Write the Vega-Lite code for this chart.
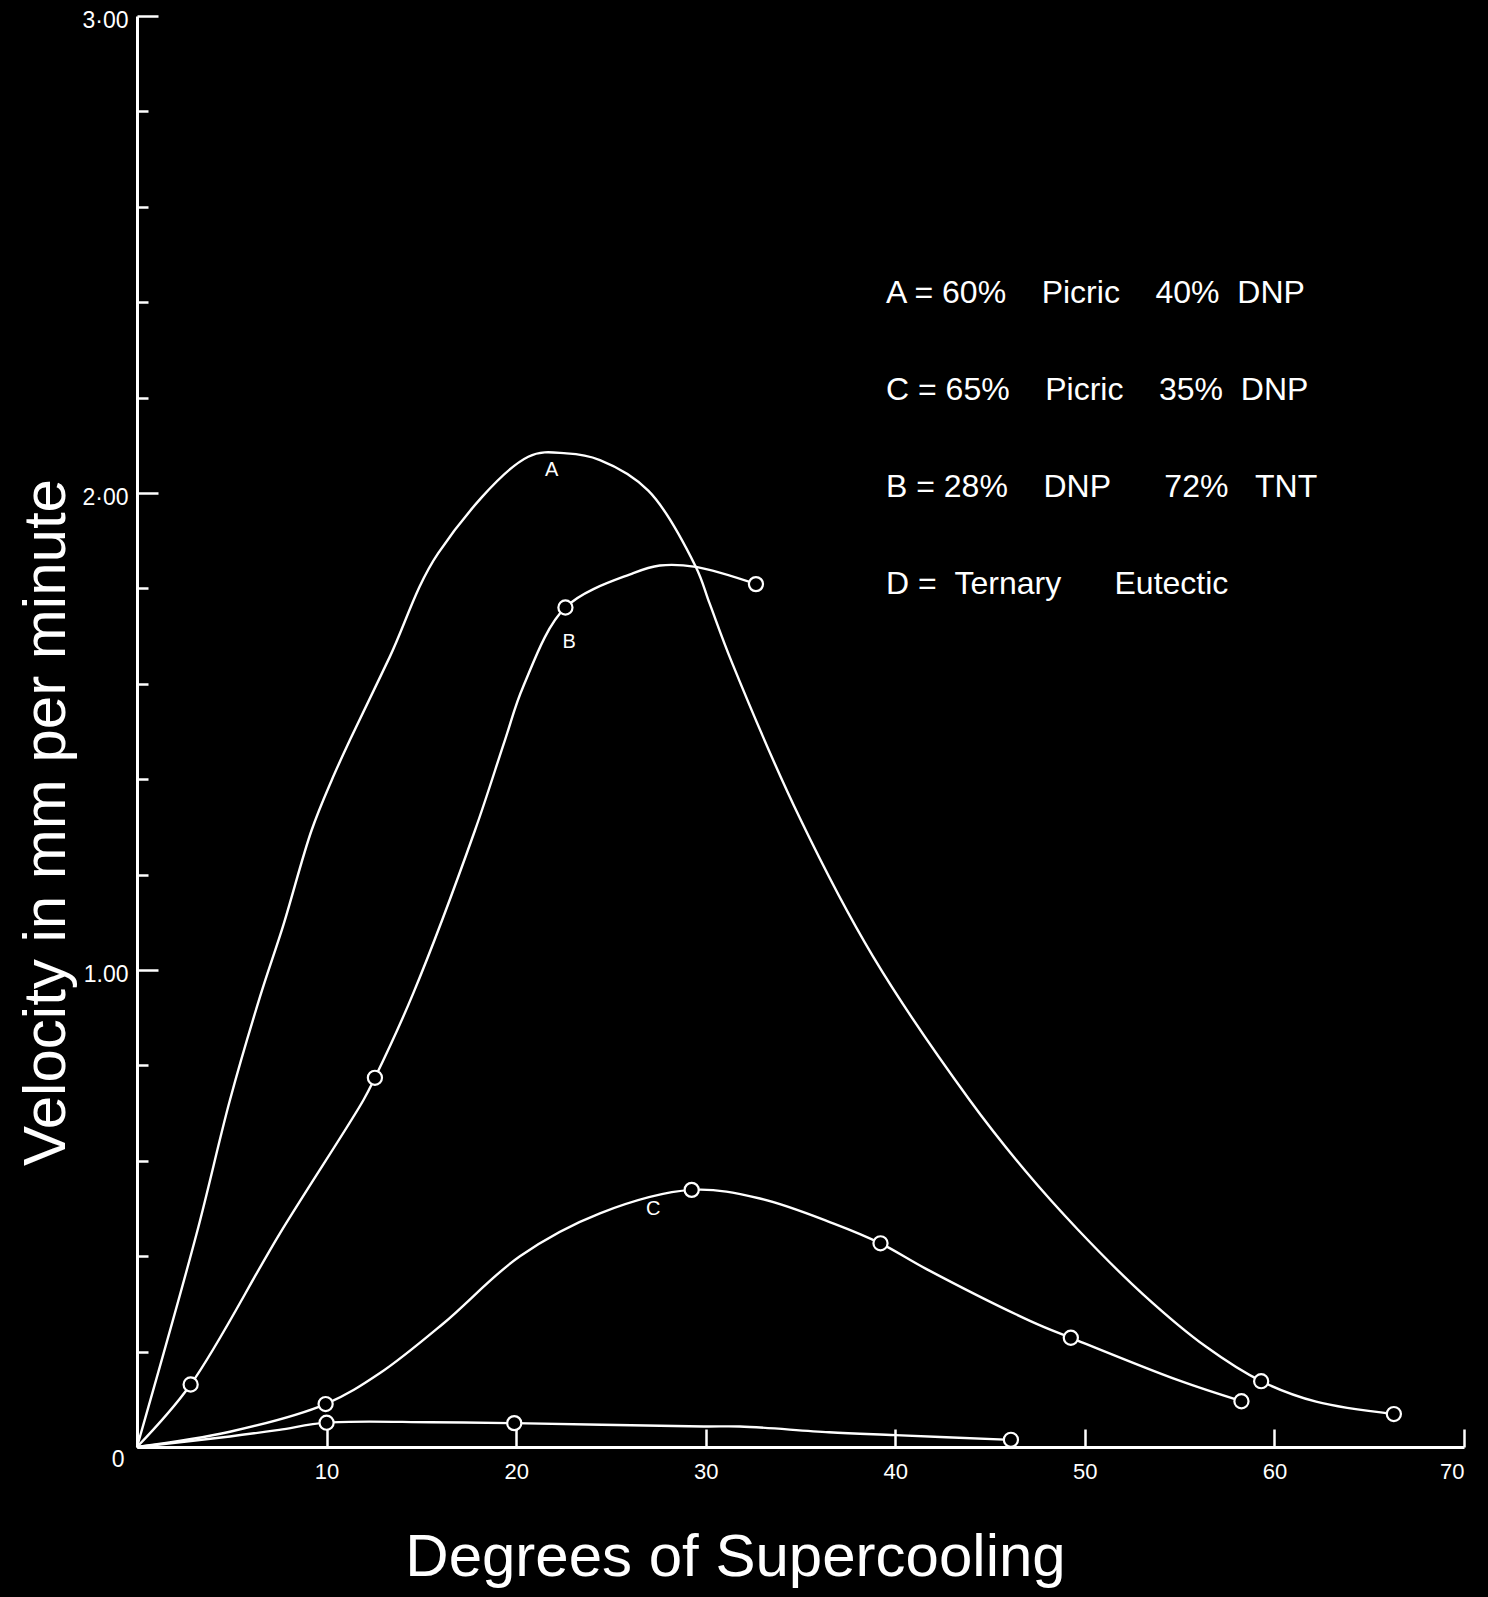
{
  "$schema": "https://vega.github.io/schema/vega-lite/v6.json",
  "width": 1327,
  "height": 1431,
  "autosize": {"type": "none"},
  "padding": {"left": 137, "top": 16, "right": 24, "bottom": 150},
  "background": "black",
  "config": {"view": {"stroke": null}, "font": "Liberation Sans"},
  "datasets": {
    "curves": [
      {"curve": "A", "x": 0, "y": 0, "measured": false},
      {"curve": "A", "x": 3.15, "y": 0.448, "measured": false},
      {"curve": "A", "x": 4.9, "y": 0.727, "measured": false},
      {"curve": "A", "x": 6.49, "y": 0.944, "measured": false},
      {"curve": "A", "x": 7.72, "y": 1.094, "measured": false},
      {"curve": "A", "x": 9.21, "y": 1.293, "measured": false},
      {"curve": "A", "x": 10.27, "y": 1.398, "measured": false},
      {"curve": "A", "x": 11.23, "y": 1.482, "measured": false},
      {"curve": "A", "x": 13.34, "y": 1.657, "measured": false},
      {"curve": "A", "x": 15.89, "y": 1.874, "measured": false},
      {"curve": "A", "x": 20.64, "y": 2.076, "measured": false},
      {"curve": "A", "x": 22.66, "y": 2.083, "measured": false},
      {"curve": "A", "x": 24.42, "y": 2.069, "measured": false},
      {"curve": "A", "x": 26.97, "y": 2.005, "measured": false},
      {"curve": "A", "x": 29.48, "y": 1.845, "measured": false},
      {"curve": "A", "x": 30.2, "y": 1.769, "measured": false},
      {"curve": "A", "x": 31.37, "y": 1.646, "measured": false},
      {"curve": "A", "x": 34.97, "y": 1.318, "measured": false},
      {"curve": "A", "x": 38.83, "y": 1.028, "measured": false},
      {"curve": "A", "x": 43.93, "y": 0.727, "measured": false},
      {"curve": "A", "x": 46.9, "y": 0.577, "measured": false},
      {"curve": "A", "x": 49.65, "y": 0.455, "measured": false},
      {"curve": "A", "x": 53.1, "y": 0.319, "measured": false},
      {"curve": "A", "x": 56.4, "y": 0.21, "measured": false},
      {"curve": "A", "x": 59.3, "y": 0.138, "measured": true},
      {"curve": "A", "x": 62.2, "y": 0.095, "measured": false},
      {"curve": "A", "x": 66.3, "y": 0.069, "measured": true},
      {"curve": "B", "x": 0, "y": 0, "measured": false},
      {"curve": "B", "x": 2.83, "y": 0.131, "measured": true},
      {"curve": "B", "x": 7.54, "y": 0.448, "measured": false},
      {"curve": "B", "x": 11.94, "y": 0.727, "measured": false},
      {"curve": "B", "x": 12.55, "y": 0.774, "measured": true},
      {"curve": "B", "x": 14.57, "y": 0.951, "measured": false},
      {"curve": "B", "x": 17.83, "y": 1.293, "measured": false},
      {"curve": "B", "x": 19.41, "y": 1.482, "measured": false},
      {"curve": "B", "x": 20.37, "y": 1.594, "measured": false},
      {"curve": "B", "x": 22.6, "y": 1.76, "measured": true},
      {"curve": "B", "x": 26.18, "y": 1.832, "measured": false},
      {"curve": "B", "x": 27.58, "y": 1.848, "measured": false},
      {"curve": "B", "x": 29.48, "y": 1.845, "measured": false},
      {"curve": "B", "x": 32.65, "y": 1.809, "measured": true},
      {"curve": "C", "x": 0, "y": 0, "measured": false},
      {"curve": "C", "x": 4.9, "y": 0.032, "measured": false},
      {"curve": "C", "x": 9.95, "y": 0.09, "measured": true},
      {"curve": "C", "x": 12.82, "y": 0.155, "measured": false},
      {"curve": "C", "x": 16.16, "y": 0.259, "measured": false},
      {"curve": "C", "x": 20.2, "y": 0.4, "measured": false},
      {"curve": "C", "x": 24.42, "y": 0.49, "measured": false},
      {"curve": "C", "x": 29.26, "y": 0.539, "measured": true},
      {"curve": "C", "x": 32.86, "y": 0.521, "measured": false},
      {"curve": "C", "x": 36.72, "y": 0.469, "measured": false},
      {"curve": "C", "x": 39.22, "y": 0.427, "measured": true},
      {"curve": "C", "x": 41.65, "y": 0.373, "measured": false},
      {"curve": "C", "x": 47.19, "y": 0.263, "measured": false},
      {"curve": "C", "x": 49.26, "y": 0.229, "measured": true},
      {"curve": "C", "x": 54.92, "y": 0.14, "measured": false},
      {"curve": "C", "x": 58.26, "y": 0.096, "measured": true},
      {"curve": "D", "x": 0, "y": 0, "measured": false},
      {"curve": "D", "x": 4.9, "y": 0.022, "measured": false},
      {"curve": "D", "x": 7.5, "y": 0.036, "measured": false},
      {"curve": "D", "x": 10, "y": 0.051, "measured": true},
      {"curve": "D", "x": 15.5, "y": 0.052, "measured": false},
      {"curve": "D", "x": 19.9, "y": 0.05, "measured": true},
      {"curve": "D", "x": 29.9, "y": 0.043, "measured": false},
      {"curve": "D", "x": 31.8, "y": 0.043, "measured": false},
      {"curve": "D", "x": 36.5, "y": 0.031, "measured": false},
      {"curve": "D", "x": 40, "y": 0.025, "measured": false},
      {"curve": "D", "x": 46.1, "y": 0.015, "measured": true}
    ],
    "labels": [
      {"text": "A", "x": 21.87, "y": 2.048},
      {"text": "B", "x": 22.8, "y": 1.688},
      {"text": "C", "x": 27.23, "y": 0.5}
    ]
  },
  "layer": [
    {
      "data": {"name": "curves"},
      "mark": {"type": "line", "interpolate": "catmull-rom", "strokeWidth": 2.4},
      "encoding": {
        "x": {
          "field": "x", "type": "quantitative",
          "scale": {"domain": [0, 70], "nice": false, "zero": false},
          "axis": {
            "title": "Degrees of Supercooling",
            "values": [0, 10, 20, 30, 40, 50, 60, 70],
            "labelExpr": "datum.value == 0 ? '' : datum.label",
            "grid": false,
            "domainColor": "white", "domainWidth": 3,
            "tickColor": "white", "tickWidth": 2.5, "tickSize": -18,
            "labelColor": "white", "labelFontSize": 22, "labelPadding": 32,
            "labelFont": "Liberation Sans",
            "titleColor": "white", "titleFontSize": 60, "titleFontWeight": "normal",
            "titleFont": "Liberation Sans",
            "titleX": 598, "titleY": 128, "titleAlign": "center", "titleBaseline": "alphabetic"
          }
        },
        "y": {
          "field": "y", "type": "quantitative",
          "scale": {"domain": [0, 3], "nice": false, "zero": true},
          "axis": {
            "title": "Velocity in mm per minute",
            "values": [0, 0.2, 0.4, 0.6, 0.8, 1, 1.2, 1.4, 1.6, 1.8, 2, 2.2, 2.4, 2.6, 2.8, 3],
            "labelExpr": "datum.value == 3 ? '3·00' : datum.value == 2 ? '2·00' : datum.value == 1 ? '1.00' : datum.value == 0 ? '0' : ''",
            "grid": false,
            "domainColor": "white", "domainWidth": 3,
            "tickColor": "white", "tickWidth": 2.5,
            "tickSize": {"condition": {"test": "datum.value == 1 || datum.value == 2 || datum.value == 3", "value": -21}, "value": -11},
            "labelColor": "white", "labelFontSize": 23,
            "labelPadding": {"condition": {"test": "datum.value == 0", "value": 24}, "value": 30},
            "labelOffset": {"condition": {"test": "datum.value == 0", "value": 12}, "value": 4},
            "labelFont": "Liberation Sans",
            "titleColor": "white", "titleFontSize": 60, "titleFontWeight": "normal",
            "titleFont": "Liberation Sans",
            "titleX": -91, "titleY": 806, "titleAlign": "center", "titleBaseline": "middle", "titleAngle": -90
          }
        },
        "color": {
          "field": "curve", "type": "nominal",
          "scale": {"domain": ["A", "C", "B", "D"], "range": ["white", "white", "white", "white"]},
          "legend": {
            "title": null,
            "orient": "none",
            "legendX": 717,
            "legendY": 261,
            "direction": "vertical",
            "symbolSize": 0,
            "symbolOpacity": 0,
            "symbolStrokeWidth": 0,
            "labelOffset": 0,
            "labelFontSize": 32,
            "labelColor": "white",
            "labelFont": "Liberation Sans",
            "labelLimit": 0,
            "rowPadding": 65,
            "labelExpr": "datum.label == 'A' ? 'A = 60%\u00a0\u00a0\u00a0\u00a0Picric\u00a0\u00a0\u00a0\u00a040%\u00a0\u00a0DNP' : datum.label == 'C' ? 'C = 65%\u00a0\u00a0\u00a0\u00a0Picric\u00a0\u00a0\u00a0\u00a035%\u00a0\u00a0DNP' : datum.label == 'B' ? 'B = 28%\u00a0\u00a0\u00a0\u00a0DNP\u00a0\u00a0\u00a0\u00a0\u00a0\u00a072%\u00a0\u00a0\u00a0TNT' : 'D =\u00a0\u00a0Ternary\u00a0\u00a0\u00a0\u00a0\u00a0\u00a0Eutectic'"
          }
        }
      }
    },
    {
      "data": {"name": "curves"},
      "transform": [{"filter": "datum.measured"}],
      "mark": {"type": "point", "shape": "circle", "filled": true, "fill": "black", "stroke": "white", "strokeWidth": 2.2, "size": 200, "opacity": 1},
      "encoding": {
        "x": {"field": "x", "type": "quantitative"},
        "y": {"field": "y", "type": "quantitative"}
      }
    },
    {
      "data": {"name": "labels"},
      "mark": {"type": "text", "color": "white", "fontSize": 20, "font": "Liberation Sans", "align": "center", "baseline": "middle"},
      "encoding": {
        "x": {"field": "x", "type": "quantitative"},
        "y": {"field": "y", "type": "quantitative"},
        "text": {"field": "text"}
      }
    }
  ]
}
